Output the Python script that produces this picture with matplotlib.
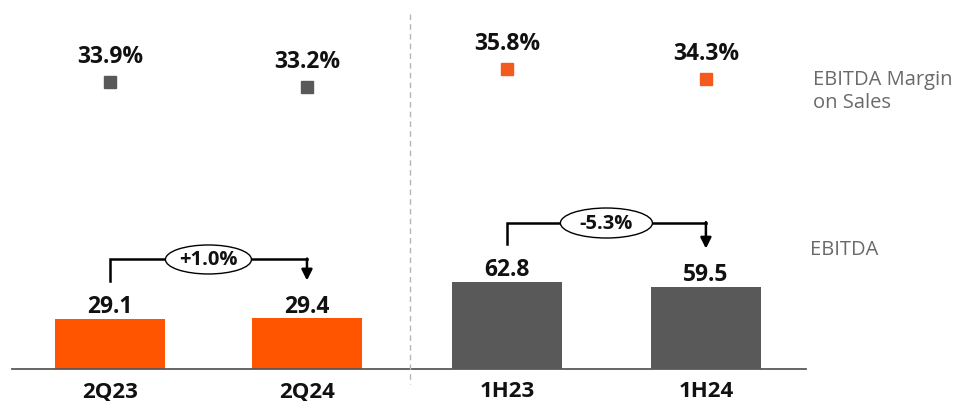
import matplotlib
matplotlib.use("Agg")
import matplotlib.pyplot as plt
from matplotlib.patches import Ellipse

plt.rcParams['font.family'] = ['Open Sans', 'DejaVu Sans']

# data
periodos_q = ["2Q23", "2Q24"]
ebitda_q = [29.1, 29.4]
margen_q = [33.9, 33.2]
cambio_q = "+1.0%"

periodos_h = ["1H23", "1H24"]
ebitda_h = [62.8, 59.5]
margen_h = [35.8, 34.3]
cambio_h = "-5.3%"

NARANJA = "#FF5500"
GRIS = "#595959"
NARANJA_M = "#F25A1E"

W, H = 959, 402
fig = plt.figure(figsize=(W / 100, H / 100), dpi=100)

ALTO_PX = 355
BASE_PX = 32


def grupo(x0_px, ancho_px, xlim, ytop, nombres, valores, margenes,
          color_barra, color_marca, cambio, ancho_barra, elip_w, elip_h):
    ax = fig.add_axes([x0_px / W, BASE_PX / H, ancho_px / W, ALTO_PX / H])
    ax.bar([0, 1], valores, width=ancho_barra, color=color_barra, zorder=2)
    ax.set_xlim(*xlim)
    ax.set_ylim(0, ytop)
    for s in ["top", "left", "right"]:
        ax.spines[s].set_visible(False)
    ax.spines["bottom"].set_color(GRIS)
    ax.spines["bottom"].set_linewidth(1.3)
    ax.set_xticks([])
    ax.set_yticks([])

    for i, (n, v) in enumerate(zip(nombres, valores)):
        ax.annotate(f"{v:.1f}", (i, v), xytext=(0, 5), textcoords="offset points",
                    ha="center", va="baseline", fontsize=16.5, fontweight="bold",
                    color="#111111")
        ax.annotate(n, (i, 0), xytext=(0, -19.5), textcoords="offset points",
                    ha="center", va="baseline", fontsize=16, fontweight="bold",
                    color="#111111", annotation_clip=False)

    # bracket with arrow
    ppu = ALTO_PX / ytop
    off = 38 / ppu
    ys0 = valores[0] + off
    ys1 = valores[1] + off
    ytop_b = max(valores) + 59 / ppu
    ax.plot([0, 0, 1], [ys0, ytop_b, ytop_b], color="black", lw=1.8,
            solid_joinstyle="miter", zorder=3)
    ax.annotate("", xy=(1, ys1), xytext=(1, ytop_b + 0.9 / ppu),
                arrowprops=dict(arrowstyle="-|>", color="black", lw=1.8,
                                mutation_scale=16, shrinkA=0, shrinkB=0),
                zorder=3)
    xpx = ancho_px / (xlim[1] - xlim[0])
    ax.add_patch(Ellipse((0.5, ytop_b), elip_w / xpx, elip_h / ppu,
                         facecolor="white", edgecolor="black", lw=1, zorder=4))
    ax.text(0.5, ytop_b, cambio, ha="center", va="center", fontsize=14.5,
            fontweight="bold", color="#111111", zorder=5)

    # margins
    ax2 = ax.twinx()
    ax2.set_ylim(-7.68, 43.77)
    ax2.axis("off")
    ax2.plot([0, 1], margenes, ls="none", marker="s", markersize=8,
             color=color_marca)
    for i, m in enumerate(margenes):
        ax2.annotate(f"{m:.1f}%", (i, m), xytext=(0, 14.5), textcoords="offset points",
                     ha="center", va="baseline", fontsize=16.5, fontweight="bold",
                     color="#111111")
    return ax


grupo(12, 398, (-0.497, 1.523), 206.6, periodos_q, ebitda_q, margen_q,
      NARANJA, GRIS, cambio_q, 0.558, 86, 29)
grupo(410, 396, (-0.487, 1.503), 256.3, periodos_h, ebitda_h, margen_h,
      GRIS, NARANJA_M, cambio_h, 0.553, 92, 30)

# separator
fig.add_artist(plt.Line2D([410 / W, 410 / W], [1 - 15 / H, 1 - 385 / H],
                          color="#B5B5B5", lw=1, ls=(0, (4, 3))))

fig.text(813 / W, 1 - 92 / H, "EBITDA Margin\non Sales", ha="left", va="center",
         fontsize=14.5, color="#6A6A6A", linespacing=1.2)
fig.text(810 / W, 1 - 250 / H, "EBITDA", ha="left", va="center",
         fontsize=14.5, color="#6A6A6A")

fig.savefig("out.png", dpi=100)
